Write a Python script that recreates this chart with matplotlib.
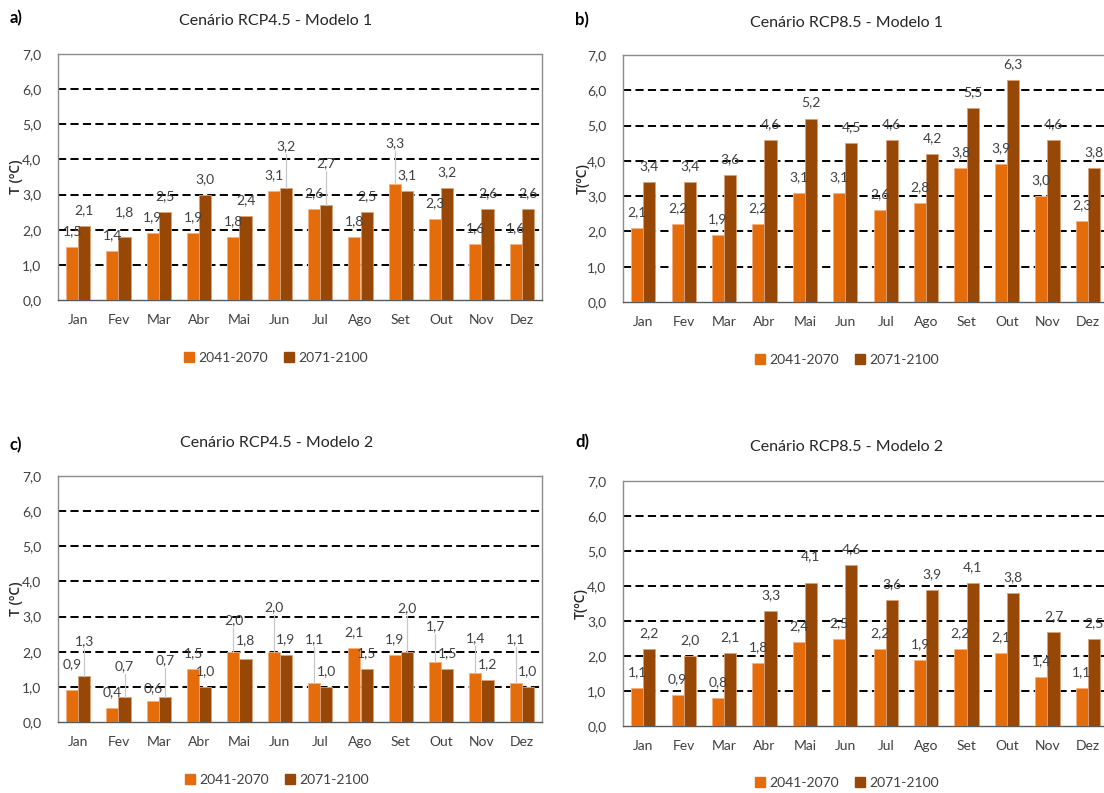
"""Monthly temperature anomalies, RCP4.5 / RCP8.5, two models, two periods."""

import matplotlib.pyplot as plt
from matplotlib.patches import Patch
import numpy as np

plt.rcParams["font.family"] = ["Lato", "DejaVu Sans"]

# data
months = ["Jan", "Fev", "Mar", "Abr", "Mai", "Jun",
          "Jul", "Ago", "Set", "Out", "Nov", "Dez"]
periods = ["2041-2070", "2071-2100"]

rcp45_m1_2041 = [1.5, 1.4, 1.9, 1.9, 1.8, 3.1, 2.6, 1.8, 3.3, 2.3, 1.6, 1.6]
rcp45_m1_2071 = [2.1, 1.8, 2.5, 3.0, 2.4, 3.2, 2.7, 2.5, 3.1, 3.2, 2.6, 2.6]
rcp85_m1_2041 = [2.1, 2.2, 1.9, 2.2, 3.1, 3.1, 2.6, 2.8, 3.8, 3.9, 3.0, 2.3]
rcp85_m1_2071 = [3.4, 3.4, 3.6, 4.6, 5.2, 4.5, 4.6, 4.2, 5.5, 6.3, 4.6, 3.8]
rcp45_m2_2041 = [0.9, 0.4, 0.6, 1.5, 2.0, 2.0, 1.1, 2.1, 1.9, 1.7, 1.4, 1.1]
rcp45_m2_2071 = [1.3, 0.7, 0.7, 1.0, 1.8, 1.9, 1.0, 1.5, 2.0, 1.5, 1.2, 1.0]
rcp85_m2_2041 = [1.1, 0.9, 0.8, 1.8, 2.4, 2.5, 2.2, 1.9, 2.2, 2.1, 1.4, 1.1]
rcp85_m2_2071 = [2.2, 2.0, 2.1, 3.3, 4.1, 4.6, 3.6, 3.9, 4.1, 3.8, 2.7, 2.5]

# extra lift of some data labels (Excel moved them and drew leader lines)
lift_a_2041 = {8: 0.7}
lift_a_2071 = {1: 0.25, 5: 0.73, 6: 0.75}
lift_c_2041 = {0: 0.3, 2: -0.1, 4: 0.45, 5: 0.82, 6: 0.81, 9: 0.58, 10: 0.54, 11: 0.81}
lift_c_2071 = {0: 0.54, 1: 0.43, 2: 0.6, 4: 0.09, 8: 0.79}
lift_d_2071 = {4: 0.3}

C_2041 = "#E46C0A"
C_2071 = "#974806"
W = 1104
H = 793


def fx(px):
    return px / W


def fy(py):
    return 1 - py / H


def panel(fig, rect, v1, v2, title, letter, ylabel, ylabel_x, title_xy,
          letter_xy, legend_y, lifts1=None, lifts2=None):
    """Draws one grouped bar panel with labels, legend and titles."""
    left, top, right, bottom = rect
    ax = fig.add_axes([fx(left), fy(bottom), fx(right - left), (bottom - top) / H])

    x = np.arange(len(months))
    bw = 0.3
    ax.bar(x - bw / 2, v1, bw, color=C_2041, edgecolor="#F4B183",
           linewidth=0.6, zorder=3)
    ax.bar(x + bw / 2, v2, bw, color=C_2071, edgecolor="#D9A27A",
           linewidth=0.6, zorder=3)

    for y in range(1, 8):
        ax.axhline(y, color="black", linestyle=(0, (4.2, 2.2)),
                   linewidth=1.4, zorder=1)

    for vals, off, lifts in ((v1, -bw / 2, lifts1 or {}),
                             (v2, bw / 2, lifts2 or {})):
        for i, v in enumerate(vals):
            extra = lifts.get(i, 0.0)
            ly = v + 0.45 + extra
            if extra >= 0.4:
                ax.plot([i + off, i + off], [v, ly - 0.22], color="#C8C8C8",
                        linewidth=0.9, zorder=4)
            ax.text(i + off, ly, f"{v:.1f}".replace(".", ","), ha="center",
                    va="center", fontsize=10, color="#404040", zorder=5)

    ax.set_xlim(-0.5, len(months) - 0.5)
    ax.set_ylim(0, 7)
    ax.set_xticks(x)
    ax.set_xticklabels(months)
    ax.set_yticks(range(8))
    ax.set_yticklabels([f"{t},0" for t in range(8)])
    ax.tick_params(axis="both", length=0, labelsize=10, colors="#404040")
    ax.tick_params(axis="x", pad=10)
    ax.tick_params(axis="y", pad=12)
    for s in ax.spines.values():
        s.set_color("#8C8C8C")
        s.set_linewidth(1.0)
    ax.spines["bottom"].set_color("#595959")

    fig.text(fx(ylabel_x), fy((top + bottom) / 2), ylabel, rotation=90,
             ha="center", va="center", fontsize=10, fontweight="semibold",
             color="#262626", family="Open Sans")
    fig.text(fx(title_xy[0]), fy(title_xy[1]), title, ha="center",
             va="center", fontsize=11.5, color="#262626")
    fig.text(fx(letter_xy[0]), fy(letter_xy[1]), letter, ha="left",
             va="center", fontsize=12, fontweight="bold", color="black")

    handles = [Patch(color=C_2041), Patch(color=C_2071)]
    fig.legend(handles, periods, loc="center", ncol=2, frameon=False,
               bbox_to_anchor=(fx(title_xy[0]), fy(legend_y)), fontsize=10,
               handlelength=0.7, handleheight=0.7, handletextpad=0.3,
               columnspacing=1.2, labelcolor="#404040")
    return ax


fig = plt.figure(figsize=(W / 100, H / 100), dpi=100)

panel(fig, (58, 54, 542, 300), rcp45_m1_2041, rcp45_m1_2071,
      "Cenário RCP4.5 - Modelo 1", "a)", "T (ºC)", 16, (276, 21), (10, 18), 358,
      lift_a_2041, lift_a_2071)
panel(fig, (623, 55, 1108, 302), rcp85_m1_2041, rcp85_m1_2071,
      "Cenário RCP8.5 - Modelo 1", "b)", "T(ºC)", 583, (847, 23), (575, 20), 360)
panel(fig, (58, 476, 542, 722), rcp45_m2_2041, rcp45_m2_2071,
      "Cenário RCP4.5 - Modelo 2", "c)", "T (ºC)", 16, (277, 443), (10, 445), 780,
      lift_c_2041, lift_c_2071)
panel(fig, (623, 481, 1108, 726), rcp85_m2_2041, rcp85_m2_2071,
      "Cenário RCP8.5 - Modelo 2", "d)", "T(ºC)", 581, (847, 447), (575, 442), 783,
      None, lift_d_2071)

fig.savefig("out.png", dpi=100)
